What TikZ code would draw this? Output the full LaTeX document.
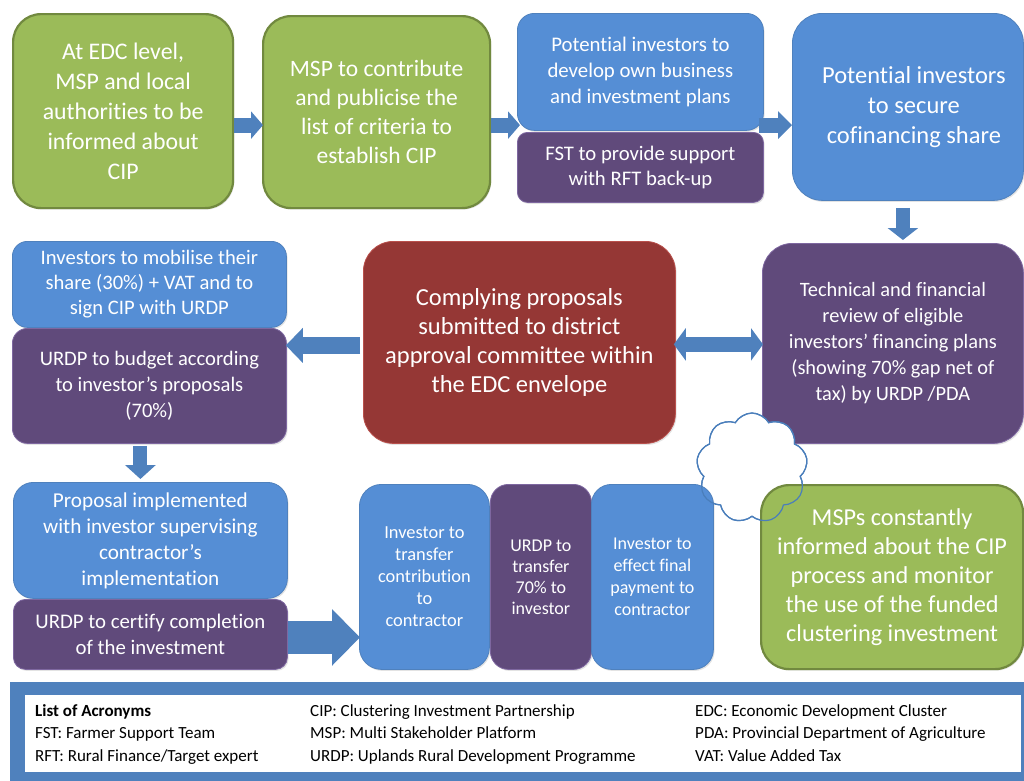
\documentclass[tikz,border=0pt]{standalone}
\usepackage{fontspec}
\setmainfont{Carlito}[Ligatures=CommonOff]
\usetikzlibrary{arrows.meta,calc,shapes.symbols,shadows}

\definecolor{boxgreen}{HTML}{9BBB59}
\definecolor{edgegreen}{HTML}{71893F}
\definecolor{boxblue}{HTML}{558ED5}
\definecolor{edgeblue}{HTML}{4F81BD}
\definecolor{boxpurple}{HTML}{604A7B}
\definecolor{edgepurple}{HTML}{7E67A0}
\definecolor{boxred}{HTML}{953735}
\definecolor{edgered}{HTML}{B9504C}
\definecolor{arrowblue}{HTML}{4F81BD}
\definecolor{cloudedge}{HTML}{4A7EBB}

\tikzset{
  card/.style={rectangle, inner sep=0pt, text=white, align=center,
    anchor=north west, line width=0.8pt,
    drop shadow={shadow xshift=1.2pt, shadow yshift=-1.5pt, opacity=0.22}},
  greencard/.style={card, fill=boxgreen, draw=edgegreen, line width=2.2pt},
  bluecard/.style={card, fill=boxblue, draw=edgeblue},
  purplecard/.style={card, fill=boxpurple, draw=edgepurple},
  redcard/.style={card, fill=boxred, draw=edgered},
  sz/.style 2 args={font=\fontsize{#1}{#2}\selectfont},
  dims/.style n args={3}{minimum width=#1, minimum height=#2, rounded corners=#3},
  flow/.style n args={3}{draw=arrowblue, line width=#1,
    -{Triangle[length=#3, width=#2]}},
  twoway/.style n args={3}{draw=arrowblue, line width=#1,
    {Triangle[length=#3, width=#2]}-{Triangle[length=#3, width=#2]}},
  puff/.style={cloud, cloud puffs=9, cloud puff arc=120, cloud ignores aspect,
    minimum width=111, minimum height=110, inner sep=0pt, line width=1.2pt},
  legendtext/.style={anchor=base west, inner sep=0pt, font=\fontsize{17}{20}\selectfont},
}

\begin{document}
\begin{tikzpicture}[x=1pt, y=-1pt]
\useasboundingbox (0,0) rectangle (1024,780);

% top row
\node[greencard, dims={220}{194}{28}, sz={23.8}{30}] (a) at (12,13)
  {At EDC level,\\ MSP and local\\ authorities to be\\ informed about\\ CIP};
\node[greencard, dims={227}{192}{28}, sz={23.5}{29}] (b) at (262,15)
  {MSP to contribute\\ and publicise the\\ list of criteria to\\ establish CIP};
\node[bluecard, dims={246}{117}{17}, sz={20.8}{26}] (c) at (517,13)
  {Potential investors to\\ develop own business\\ and investment plans};
\node[purplecard, dims={246}{70}{10}, sz={20.7}{25}] (c2) at (517,132)
  {FST to provide support\\ with RFT back-up};
\node[bluecard, dims={231}{187}{30}, sz={24.5}{30}] (d) at (792,13)
  {\hspace*{12pt}Potential investors\\ \hspace*{12pt}to secure\\ \hspace*{12pt}cofinancing share};

% middle row
\node[bluecard, dims={274}{86}{15}, sz={20.6}{25}] (f) at (12,241)
  {Investors to mobilise their\\ share (30\%) + VAT and to\\ sign CIP with URDP};
\node[purplecard, dims={274}{115}{15}, sz={20.6}{26}] (g) at (12,328)
  {URDP to budget according\\ to investor’s proposals\\ (70\%)};
\node[redcard, dims={312}{202}{30}, sz={24.5}{29}] (h) at (363,241)
  {Complying proposals\\ submitted to district\\ approval committee within\\ the EDC envelope};
\node[purplecard, dims={261}{200}{30}, sz={20.4}{26}] (e) at (762,243)
  {Technical and financial\\ review of eligible\\ investors’ financing plans\\ (showing 70\% gap net of\\ tax) by URDP /PDA};

% bottom row
\node[bluecard, dims={274}{116}{20}, sz={21.2}{26}] (i) at (13,482)
  {Proposal implemented\\ with investor supervising\\ contractor’s\\ implementation};
\node[purplecard, dims={274}{70}{12}, sz={20.8}{26}] (j) at (13,599)
  {URDP to certify completion\\ of the investment};
\node[bluecard, dims={130}{185}{22}, sz={18.4}{22}] (k) at (359,484)
  {Investor to\\ transfer\\ contribution\\ to\\ contractor};
\node[purplecard, dims={101}{185}{18}, sz={18}{21}] (l) at (490,484)
  {URDP to\\ transfer\\ 70\% to\\ investor};

% cloud callout sits over the review box, under the last two boxes
\node[puff, fill=white, draw=cloudedge] (cloud) at (752,468) {};

\node[bluecard, dims={122}{185}{20}, sz={18}{22}] (m) at (591,484)
  {Investor to\\ effect final\\ payment to\\ contractor};
\node[greencard, dims={262}{184}{28}, sz={24.3}{29}] (n) at (760,484)
  {MSPs constantly\\ informed about the CIP\\ process and monitor\\ the use of the funded\\ clustering investment};

% cloud rim stays visible over the boxes
\node[puff, draw=cloudedge] (cloudrim) at (cloud.center) {};

% block arrows
\draw[flow={15pt}{27pt}{12pt}] ($(a.east)+(0,14)$) -- ($(b.west |- a.east)+(1,14)$);
\draw[flow={15pt}{27pt}{12pt}] ($(b.east)+(0,13)$) -- ($(c.west |- b.east)+(3,13)$);
\draw[flow={15pt}{27pt}{14pt}] ($(c.east |- b.east)+(-5,13)$) -- ($(d.west |- b.east)+(0,13)$);
\draw[flow={14pt}{30pt}{12pt}] ($(d.south)+(-5,7)$) -- ($(d.south |- e.north)+(-5,-3)$);
\draw[flow={17pt}{34pt}{17pt}] ($(h.west)+(-3,3)$) -- ($(g.east |- h.west)+(-1,3)$);
\draw[twoway={15pt}{32pt}{12pt}] ($(h.east)+(-2,2)$) -- ($(e.west |- h.east)+(1,2)$);
\draw[flow={14pt}{30pt}{14pt}] ($(g.south)+(-9,2)$) -- ($(g.south |- i.north)+(-9,-3)$);
\draw[flow={33pt}{55pt}{28pt}] ($(j.east)+(0,3)$) -- ($(k.west |- j.east)+(1,3)$);

% list of acronyms
\node[rectangle, fill=arrowblue, anchor=north west, minimum width=1020, minimum height=100, inner sep=0pt] (legend) at (10,682) {};
\node[rectangle, fill=white, anchor=north west, minimum width=996, minimum height=77, inner sep=0pt] (legendpanel) at (25,695) {};

\node[legendtext, font=\fontsize{17}{20}\selectfont\bfseries] (lg1) at (35,716) {List of Acronyms};
\node[legendtext] (lg2) at (35,738) {FST: Farmer Support Team};
\node[legendtext] (lg3) at (35,761) {RFT: Rural Finance/Target expert};
\node[legendtext] (lg4) at (310,716) {CIP: Clustering Investment Partnership};
\node[legendtext] (lg5) at (310,738) {MSP: Multi Stakeholder Platform};
\node[legendtext] (lg6) at (310,761) {URDP: Uplands Rural Development Programme};
\node[legendtext] (lg7) at (695,716) {EDC: Economic Development Cluster};
\node[legendtext] (lg8) at (695,738) {PDA: Provincial Department of Agriculture};
\node[legendtext] (lg9) at (695,761) {VAT: Value Added Tax};
\end{tikzpicture}
\end{document}
